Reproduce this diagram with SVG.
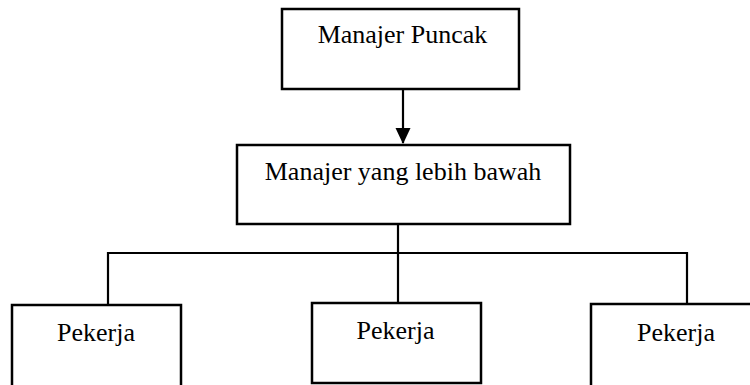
<svg xmlns="http://www.w3.org/2000/svg" width="750" height="385" viewBox="0 0 750 385">
<style>
.box{fill:#fff;stroke:#000;stroke-width:2.5}
.lbl{font-family:"Liberation Serif","Times New Roman",serif;font-size:26px;fill:#000;text-anchor:middle}
.ln{stroke:#000;stroke-width:2.2;fill:none}
</style>
<defs>
<marker id="ah" markerUnits="userSpaceOnUse" markerWidth="16" markerHeight="18" refX="15" refY="7.5" orient="auto">
<path d="M0,0 L16,7.5 L0,15 Z" fill="#000"/>
</marker>
</defs>
<rect width="750" height="385" fill="#fff"/>
<g id="connectors">
<line class="ln" x1="403" y1="89" x2="403" y2="143" marker-end="url(#ah)"/>
<line class="ln" x1="398" y1="224" x2="398" y2="303"/>
<line class="ln" x1="107" y1="253" x2="688" y2="253"/>
<line class="ln" x1="108" y1="252" x2="108" y2="305"/>
<line class="ln" x1="687" y1="252" x2="687" y2="304"/>
</g>
<g id="manajer-puncak">
<rect class="box" x="282" y="9" width="237" height="80"/>
<text class="lbl" x="402.5" y="43">Manajer Puncak</text>
</g>
<g id="manajer-bawah">
<rect class="box" x="237" y="145" width="333" height="79"/>
<text class="lbl" x="403" y="180">Manajer yang lebih bawah</text>
</g>
<g id="pekerja-1">
<rect class="box" x="12" y="305" width="169" height="90"/>
<text class="lbl" x="96" y="341">Pekerja</text>
</g>
<g id="pekerja-2">
<rect class="box" x="312" y="303" width="169" height="80"/>
<text class="lbl" x="395.5" y="339">Pekerja</text>
</g>
<g id="pekerja-3">
<rect class="box" x="591" y="304" width="170" height="91"/>
<text class="lbl" x="676" y="341">Pekerja</text>
</g>
</svg>
